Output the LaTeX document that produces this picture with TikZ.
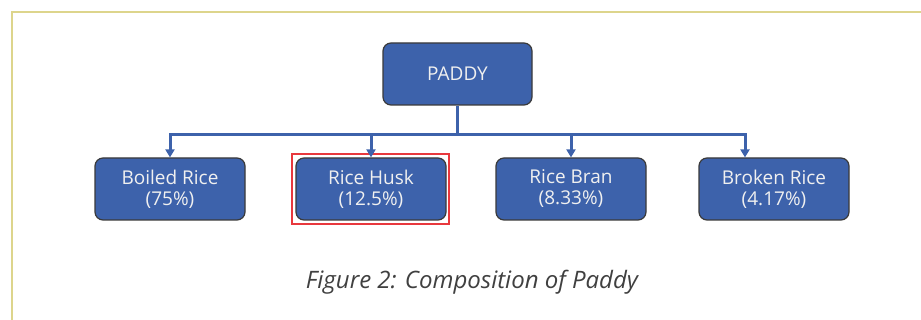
\documentclass[tikz,border=0pt]{standalone}
\usepackage{fontspec}
\setmainfont{Open Sans}
\usetikzlibrary{arrows.meta}
\definecolor{boxblue}{HTML}{3D62AB}
\definecolor{boxedge}{HTML}{3A3A3A}
\definecolor{frame}{HTML}{DDD58C}
\definecolor{captxt}{HTML}{404040}
\definecolor{hl}{HTML}{E8383D}
\tikzset{
  x=1pt, y=-1pt,
  box/.style={draw=boxedge, line width=1.2pt, fill=boxblue, rounded corners=8pt,
    text=white!94!black, font=\fontsize{19}{21}\selectfont, align=center,
    minimum width=150pt, minimum height=62pt, inner sep=0pt},
  conn/.style={draw=boxblue, line width=3pt},
  arr/.style={draw=boxblue, line width=3pt, -{Triangle[width=9pt,length=8pt]}},
}
\begin{document}
\begin{tikzpicture}
\useasboundingbox (0,0) rectangle (921,320);
\clip (0,0) rectangle (921,320);
\fill[white] (0,0) rectangle (921,320);
\draw[frame, line width=2.5pt] (12,12) rectangle (940,340);
\node[box, minimum width=149pt] (paddy) at (457.5,74) {PADDY};
\node[box] (boiled) at (170,189) {Boiled Rice\\(75\%)};
\node[box] (husk) at (371,189) {Rice Husk\\(12.5\%)};
\node[box] (bran) at (571,189) {Rice Bran\\(8.33\%)};
\node[box] (broken) at (774,189) {Broken Rice\\(4.17\%)};
\node[draw=hl, line width=1.3pt, minimum width=157pt, minimum height=70pt, inner sep=0pt] (sel) at (370.5,189) {};
\coordinate (busL) at (170,135);
\coordinate (tapD) at (745,135);
\draw[conn] (paddy.south) -- (paddy.south |- busL);
\draw[conn, line cap=rect] (busL) -- (tapD);
\draw[arr] (busL) -- (boiled.north);
\draw[arr] (husk.north |- busL) -- (husk.north);
\draw[arr] (bran.north |- busL) -- (bran.north);
\draw[arr] (tapD) -- (tapD |- broken.north);
\node[font=\fontsize{24}{27}\selectfont\itshape, text=captxt] (cap) at (472,282) {Figure 2: Composition of Paddy};
\end{tikzpicture}
\end{document}
